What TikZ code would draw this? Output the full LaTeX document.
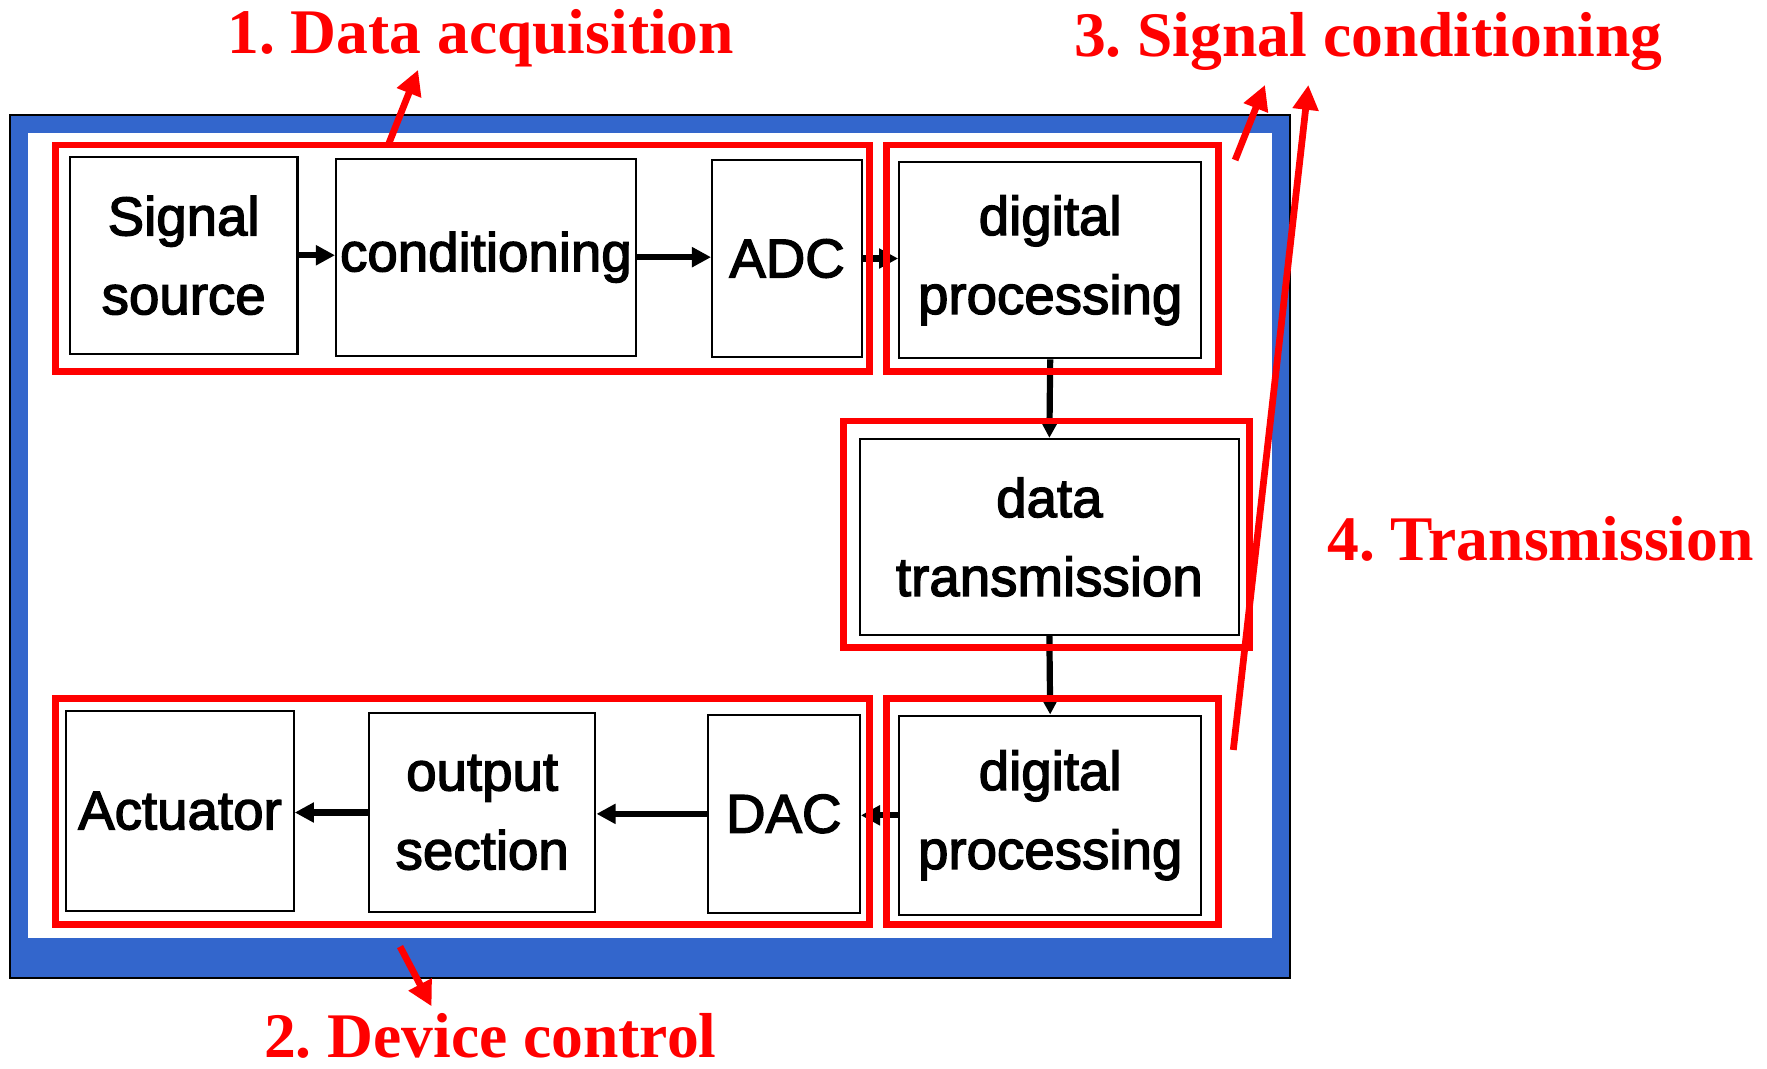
\documentclass[tikz,border=0pt]{standalone}
\usepackage{fontspec}
\setmainfont{Liberation Sans}
\newfontfamily\blockfont{Liberation Sans}[FakeBold=2.5]
\newfontfamily\notefont{Liberation Serif}
\usetikzlibrary{arrows.meta}

\definecolor{frameblue}{RGB}{51,102,204}

\tikzset{
  blockbox/.style={draw=black, line width=1.8pt, fill=white, inner sep=0pt,
    align=center, font=\blockfont\fontsize{48.5}{70}\selectfont},
  groupbox/.style={draw=red, line width=6pt, inner sep=0pt},
  flow/.style={draw=black, line width=5.5pt, -{Triangle[length=17pt,width=17pt]}},
  pointer/.style={draw=red, line width=6pt, -{Triangle[length=22pt,width=22pt]}},
  caption/.style={text=red, anchor=base, inner sep=0pt,
    font=\notefont\bfseries\fontsize{56.4}{60}\selectfont\frenchspacing}
}

\begin{document}
\begin{tikzpicture}[x=1pt, y=-1pt]
  \useasboundingbox (0,0) rectangle (1568,948);

  % blue frame with white field
  \fill[frameblue, draw=black, line width=1.5pt] (8.7,102) rectangle (1144.7,868);
  \fill[white] (24.5,117.7) rectangle (1129,832.6);

  % processing blocks
  \node[blockbox, minimum width=202pt, minimum height=175pt] (src)  at (163,226.5) {Signal\\source};
  \node[blockbox, minimum width=266pt, minimum height=175pt] (cond) at (431.2,228.2) {conditioning};
  \node[blockbox, minimum width=133pt, minimum height=175pt] (adc)  at (698.4,229.4) {ADC};
  \node[blockbox, minimum width=268pt, minimum height=174pt] (dp1)  at (931.9,231) {digital\\processing};
  \node[blockbox, minimum width=336pt, minimum height=174pt] (tx)   at (931.2,476.5) {data\\transmission};
  \node[blockbox, minimum width=268pt, minimum height=177pt] (dp2)  at (931.9,723.5) {digital\\processing};
  \node[blockbox, minimum width=135pt, minimum height=176pt] (dac)  at (695.5,722.2) {DAC};
  \node[blockbox, minimum width=201pt, minimum height=177pt] (outs) at (427.9,721) {output\\section};
  \node[blockbox, minimum width=202pt, minimum height=177pt] (act)  at (159.7,719.5) {Actuator};

  % signal flow
  \draw[flow] (src.east)  -- (src.east -| cond.west);
  \draw[flow] (cond.east) -- (cond.east -| adc.west);
  \draw[flow] (adc.east)  -- (adc.east -| dp1.west);
  \draw[flow] (dp1.south) -- (tx.north);
  \draw[flow] (tx.south)  -- (dp2.north);
  \draw[flow] (dp2.west)  -- (dp2.west -| dac.east);
  \draw[flow] (dac.west)  -- (dac.west -| outs.east);
  \draw[flow] (outs.west) -- (outs.west -| act.east);

  % red grouping frames
  \node[groupbox, minimum width=722pt, minimum height=201pt] (acq)   at (410.5,229.2) {};
  \node[groupbox, minimum width=295pt, minimum height=201pt] (condg) at (934,229.2) {};
  \node[groupbox, minimum width=360pt, minimum height=201pt] (trans) at (928.8,474) {};
  \node[groupbox, minimum width=722pt, minimum height=201pt] (ctrl)  at (410.5,720) {};
  \node[groupbox, minimum width=295pt, minimum height=201pt] (condh) at (934,720) {};

  % captions
  \node[caption] (cap1) at (426.5,47.5) {1. Data acquisition};
  \node[caption] (cap3) at (1214,50) {3. Signal conditioning};
  \node[caption] (cap4) at (1367,497) {4. Transmission};
  \node[caption] (cap2) at (435,938) {2. Device control};

  % pointer ends
  \coordinate (p1a) at (344,130);    \coordinate (p1b) at (371,62);
  \coordinate (p2a) at (355,840);    \coordinate (p2b) at (383,893);
  \coordinate (p3a) at (1096,142);   \coordinate (p3b) at (1122.5,75.4);
  \coordinate (p4a) at (1094.4,665.5); \coordinate (p4b) at (1161,75.4);

  \draw[pointer] (p1a) -- (p1b);
  \draw[pointer] (p2a) -- (p2b);
  \draw[pointer] (p3a) -- (p3b);
  \draw[pointer] (p4a) -- (p4b);
\end{tikzpicture}
\end{document}
